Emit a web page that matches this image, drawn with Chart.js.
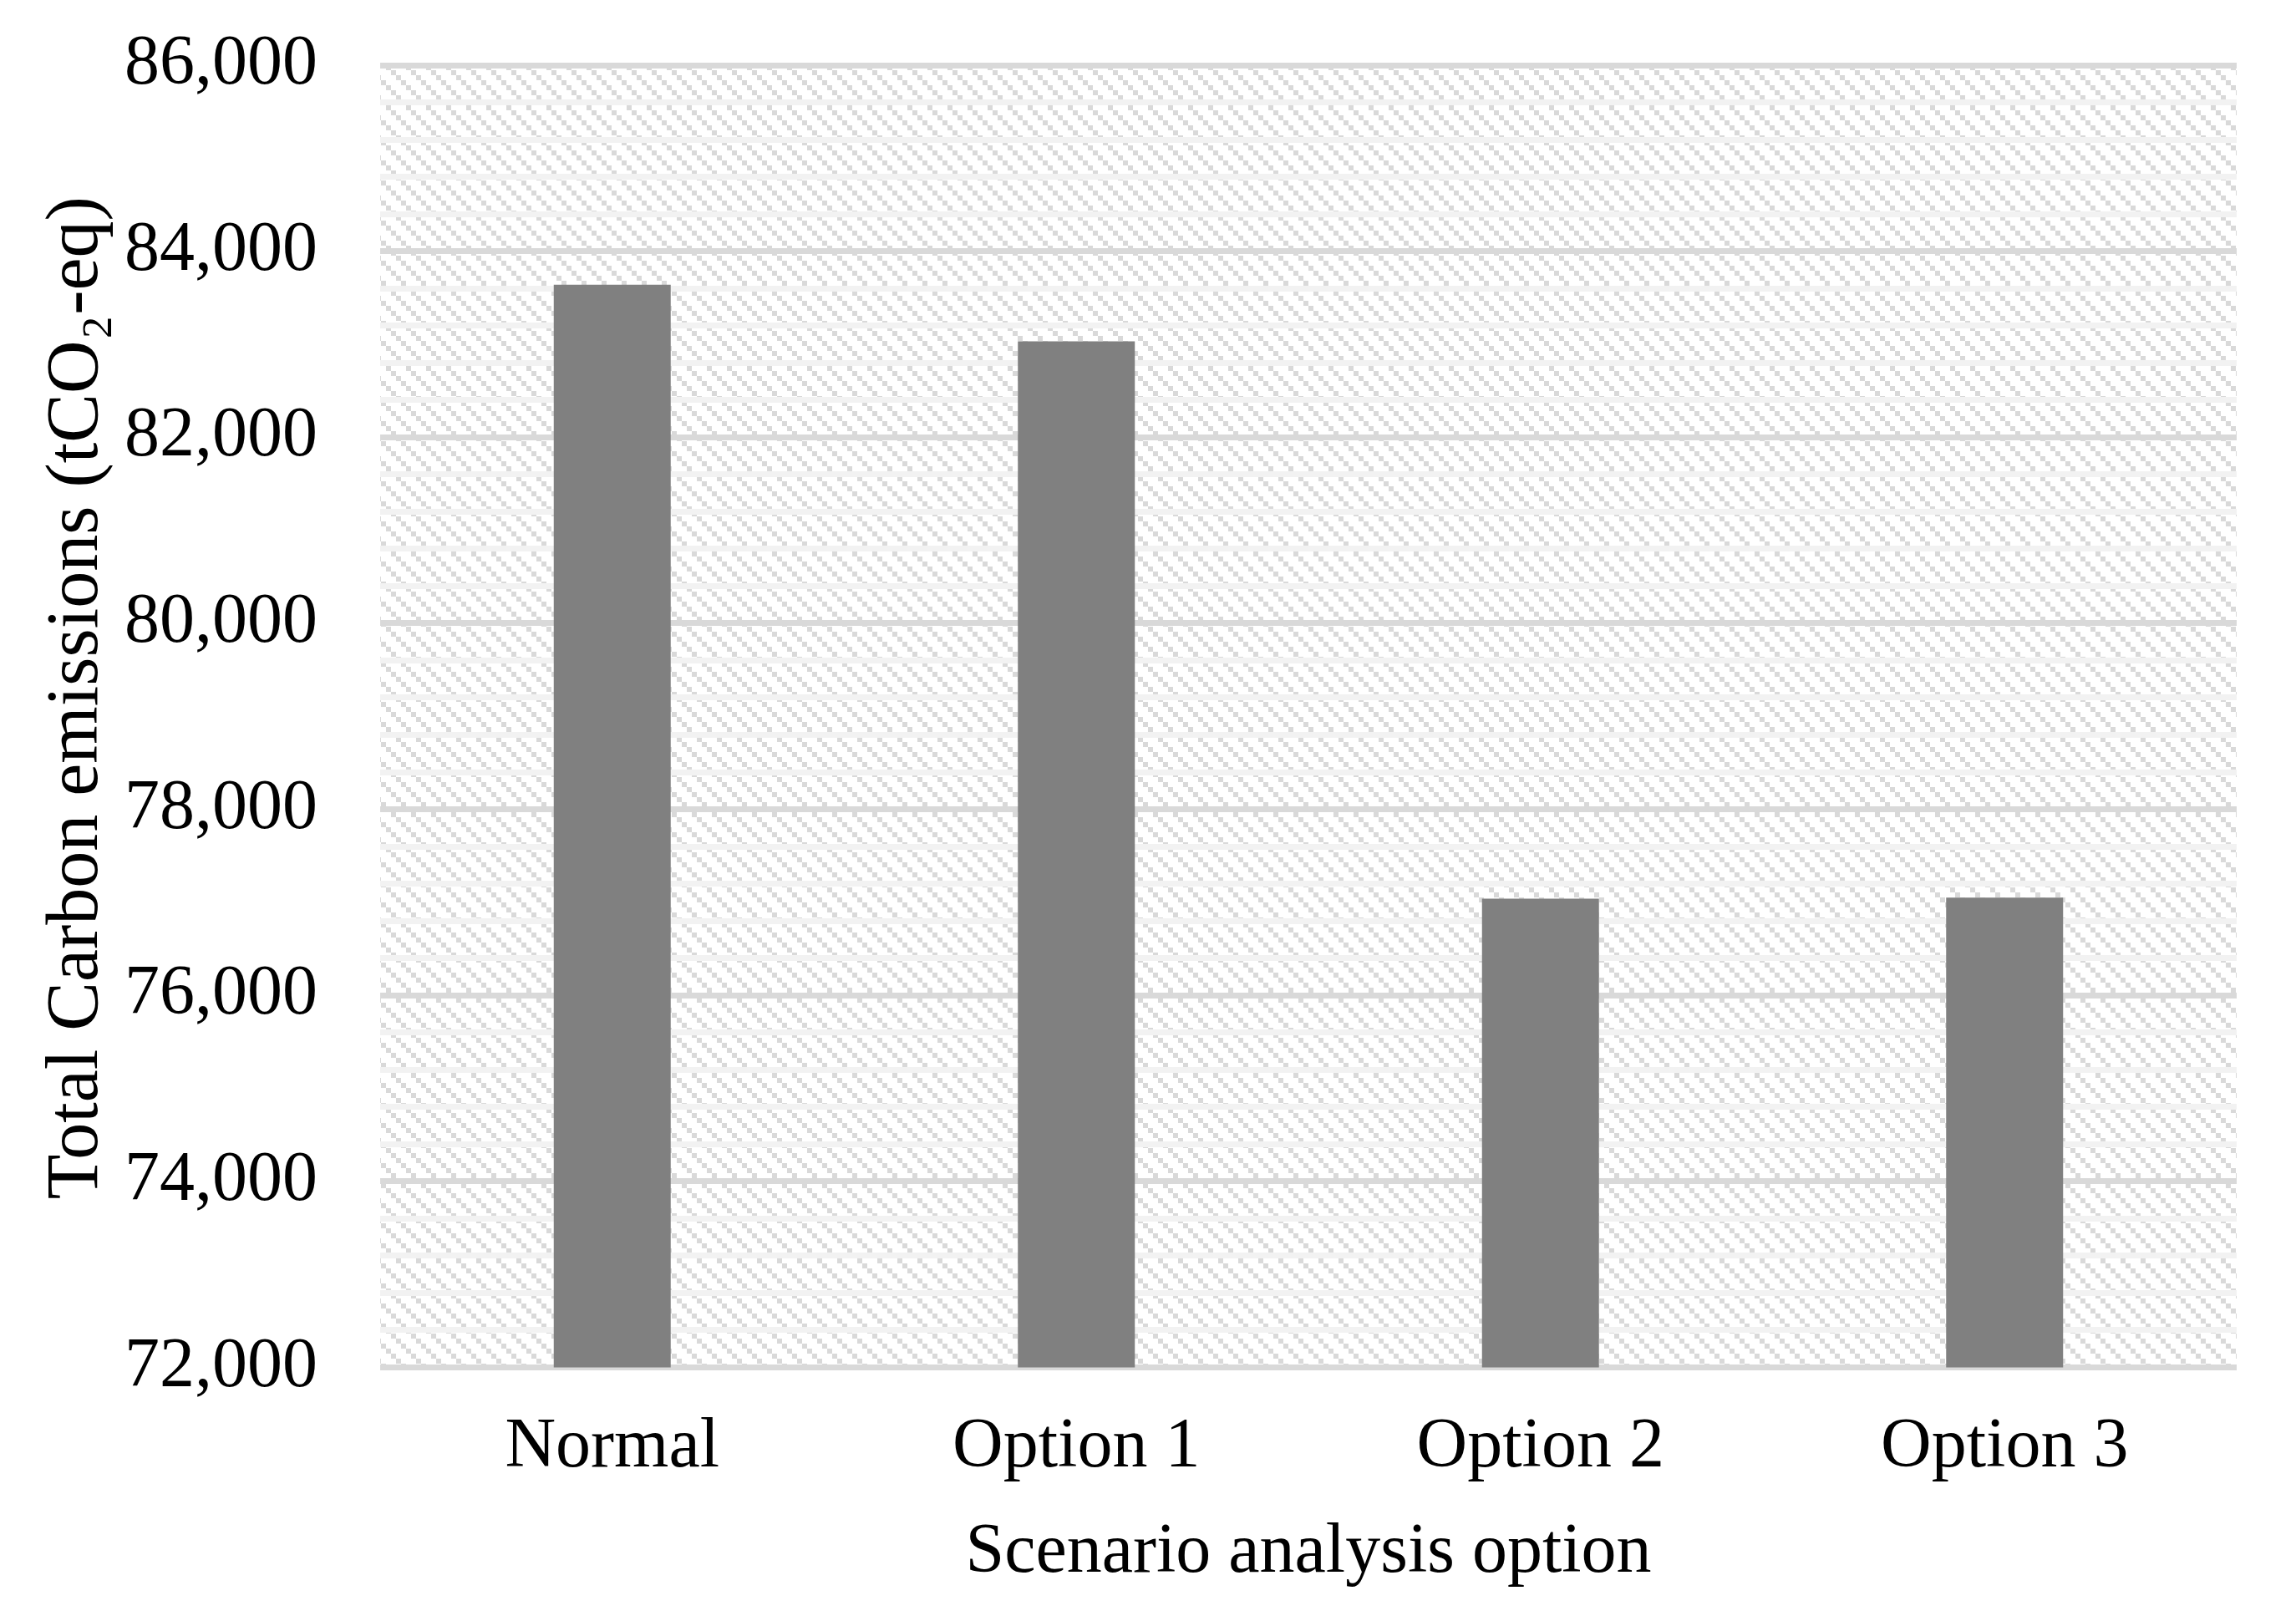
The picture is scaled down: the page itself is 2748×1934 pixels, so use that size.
<!DOCTYPE html>
<html>
<head>
<meta charset="utf-8">
<script src="https://cdn.jsdelivr.net/npm/chart.js@4.4.1/dist/chart.umd.min.js"></script>
<style>
  html, body { margin: 0; padding: 0; background: #fff; }
  canvas { display: block; }
</style>
</head>
<body>
<canvas id="chart" width="2748" height="1934"></canvas>
<script>
// values
const categories = ['Normal', 'Option 1', 'Option 2', 'Option 3'];
const emissions = [83640, 83030, 77040, 77050];
const yMin = 72000;
const yMax = 86000;
const yMajorStep = 2000; // labelled, darker grid lines
const yMinorStep = 400;  // faint grid lines in between

const FONT = { family: "'Liberation Serif', 'Times New Roman', serif", size: 84 };
const TITLE_FONT_Y = { family: FONT.family, size: 88 };

// Excel-like "downward diagonal" fill behind the plot
function makeHatch() {
  const p = document.createElement('canvas');
  p.width = 24; p.height = 24;
  const g = p.getContext('2d');
  g.fillStyle = '#ffffff';
  g.fillRect(0, 0, 24, 24);
  g.fillStyle = '#d9d9d9';
  for (let i = 0; i < 4; i++) g.fillRect(i * 6, i * 6, 6, 6);
  return p;
}

const hatchBg = {
  id: 'hatchBg',
  beforeDraw(chart) {
    const { ctx, chartArea: a } = chart;
    ctx.save();
    ctx.fillStyle = ctx.createPattern(makeHatch(), 'repeat');
    ctx.fillRect(a.left, a.top - 3, a.right - a.left, a.bottom - a.top + 6);
    ctx.restore();
  }
};

new Chart(document.getElementById('chart'), {
  type: 'bar',
  data: {
    labels: categories,
    datasets: [{
      data: emissions,
      backgroundColor: '#808080',
      borderWidth: 0,
      barPercentage: 0.252,
      categoryPercentage: 1
    }]
  },
  plugins: [hatchBg],
  options: {
    responsive: false,
    animation: false,
    devicePixelRatio: 1,
    layout: { padding: { left: 0, right: 71, top: 78, bottom: 0 } },
    plugins: { legend: { display: false }, tooltip: { enabled: false } },
    scales: {
      x: {
        grid: { display: false, drawTicks: false },
        border: { display: false },
        ticks: { font: FONT, color: '#000', padding: 46 },
        title: {
          display: true,
          text: 'Scenario analysis option',
          font: FONT,
          color: '#000',
          padding: { top: 0, bottom: 25 }
        },
        afterFit(scale) { scale.height = 297.5; }
      },
      y: {
        min: yMin,
        max: yMax,
        grid: {
          lineWidth: 7,
          drawTicks: false,
          color: (ctx) => (ctx.tick && ctx.tick.value % yMajorStep === 0) ? '#d9d9d9' : '#f2f2f2'
        },
        border: { display: false },
        ticks: {
          stepSize: yMinorStep,
          maxTicksLimit: 100,
          autoSkip: false,
          padding: 75,
          font: FONT,
          color: '#000',
          callback: (v) => (v % yMajorStep === 0 ? v.toLocaleString('en-US') : '')
        },
        title: {
          display: true,
          // leading spaces nudge the centred title up a little, as in the original
          text: '\u00a0\u00a0Total Carbon emissions (tCO₂-eq)',
          font: TITLE_FONT_Y,
          color: '#000',
          padding: { top: 40, bottom: 0 }
        },
        afterFit(scale) {
          scale.width = 455;
          // tick padding would otherwise push the plot down from the top
          scale.paddingTop = 0;
          scale.paddingBottom = 0;
        }
      }
    }
  }
});
</script>
</body>
</html>
